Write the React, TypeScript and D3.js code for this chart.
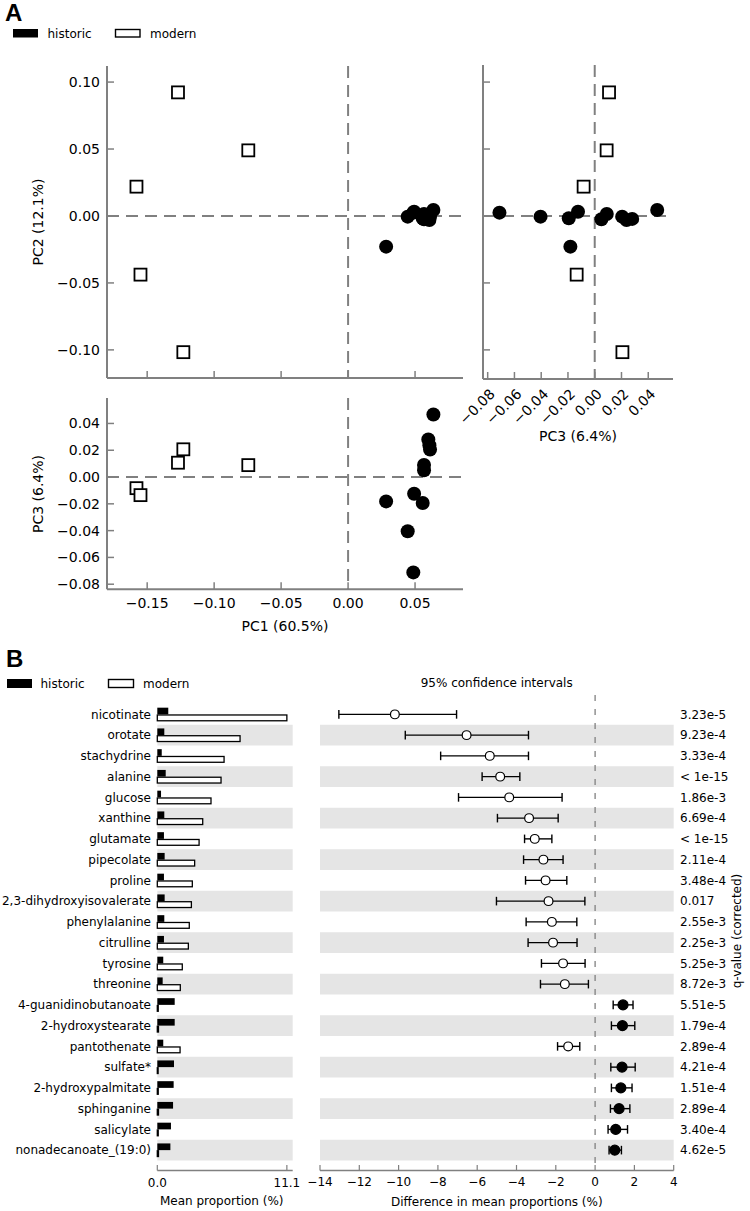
import React from "react";
import * as d3 from "d3";

// ---------- Panel A data (PCA scores) ----------
const histPC1 = [0.0487, 0.0445, 0.0557, 0.0493, 0.0284, 0.0567, 0.0567, 0.0612, 0.0607, 0.0599, 0.0637];
const histPC2 = [0.0025, -0.0005, -0.0017, 0.0032, -0.0229, -0.0025, 0.0015, -0.0005, -0.003, -0.0022, 0.0045];
const histPC3 = [-0.0712, -0.0405, -0.0194, -0.0125, -0.0182, 0.005, 0.009, 0.0205, 0.0238, 0.028, 0.0467];
const modPC1 = [-0.127, -0.0745, -0.158, -0.155, -0.123];
const modPC2 = [0.0923, 0.049, 0.0219, -0.0438, -0.1017];
const modPC3 = [0.0107, 0.0089, -0.0083, -0.0135, 0.0207];

const pc1Ticks = [-0.15, -0.1, -0.05, 0.0, 0.05];
const pc2Ticks = [0.1, 0.05, 0.0, -0.05, -0.1];
const pc3Ticks = [-0.08, -0.06, -0.04, -0.02, 0.0, 0.02, 0.04];

// ---------- Panel B data ----------
const metabolites = [
  "nicotinate", "orotate", "stachydrine", "alanine", "glucose", "xanthine", "glutamate",
  "pipecolate", "proline", "2,3-dihydroxyisovalerate", "phenylalanine", "citrulline",
  "tyrosine", "threonine", "4-guanidinobutanoate", "2-hydroxystearate", "pantothenate",
  "sulfate*", "2-hydroxypalmitate", "sphinganine", "salicylate", "nonadecanoate_(19:0)",
];
const histMean = [0.94, 0.6, 0.38, 0.72, 0.32, 0.6, 0.57, 0.63, 0.57, 0.63, 0.6, 0.57, 0.51, 0.46, 1.49, 1.49, 0.51, 1.43, 1.4, 1.35, 1.17, 1.12];
const modMean = [11.1, 7.09, 5.72, 5.46, 4.6, 3.89, 3.58, 3.2, 3.0, 2.92, 2.74, 2.66, 2.14, 1.97, 0.08, 0.1, 1.95, 0.07, 0.08, 0.1, 0.08, 0.1];
const diffMean = [-10.19, -6.54, -5.36, -4.83, -4.37, -3.36, -3.07, -2.63, -2.52, -2.37, -2.2, -2.14, -1.63, -1.54, 1.42, 1.39, -1.37, 1.37, 1.31, 1.22, 1.05, 1.0];
const ciLow = [-13.04, -9.66, -7.86, -5.75, -6.95, -4.97, -3.59, -3.64, -3.54, -5.02, -3.51, -3.41, -2.73, -2.78, 0.92, 0.83, -1.91, 0.8, 0.83, 0.78, 0.66, 0.71];
const ciHigh = [-7.05, -3.39, -3.39, -3.83, -1.68, -1.88, -2.2, -1.63, -1.44, -0.52, -0.93, -0.92, -0.51, -0.34, 1.93, 2.02, -0.78, 2.04, 1.88, 1.77, 1.65, 1.34];
const qValues = ["3.23e-5", "9.23e-4", "3.33e-4", "< 1e-15", "1.86e-3", "6.69e-4", "< 1e-15", "2.11e-4", "3.48e-4", "0.017", "2.55e-3", "2.25e-3", "5.25e-3", "8.72e-3", "5.51e-5", "1.79e-4", "2.89e-4", "4.21e-4", "1.51e-4", "2.89e-4", "3.40e-4", "4.62e-5"];
const meanTicks = [0.0, 11.1];
const diffTicks = [-14, -12, -10, -8, -6, -4, -2, 0, 2, 4];

const FONT = "DejaVu Sans";
const GRAY = "#808080";
const BAND = "#e5e5e5";

const fmt2 = (v: number) => (v < 0 ? "\u2212" : "") + Math.abs(v).toFixed(2);

export default function App() {
  // Panel A scales
  const xPC1 = d3.scaleLinear().domain([-0.18, 0.0858]).range([107, 463]);
  const yPC2 = d3.scaleLinear().domain([-0.121, 0.112]).range([378, 66]);
  const xPC3 = d3.scaleLinear().domain([-0.0835, 0.0585]).range([483, 673]);
  const yPC3 = d3.scaleLinear().domain([-0.0838, 0.059]).range([589.3, 398]);

  // Panel B scales
  const yRow = d3.scaleBand<string>().domain(metabolites).range([704, 1160.5]).padding(0);
  const xMean = d3.scaleLinear().domain([0, 11.6]).range([157.3, 292.7]);
  const xDiff = d3.scaleLinear().domain([-14, 4]).range([320, 673.7]);
  const bw = yRow.bandwidth();

  const square = (cx: number, cy: number, k: string) => (
    <rect key={k} x={cx - 6} y={cy - 6} width={12} height={12} fill="#fff" stroke="#000" strokeWidth={1.8} />
  );
  const dot = (cx: number, cy: number, k: string) => <circle key={k} cx={cx} cy={cy} r={7} fill="#000" />;

  const dash = { stroke: GRAY, strokeWidth: 2, strokeDasharray: "12,7", fill: "none" };

  return (
    <svg width={750} height={1211} style={{ position: "absolute", left: 0, top: 0, background: "#fff" }} fontFamily={FONT}>
      <rect x={0} y={0} width={750} height={1211} fill="#fff" />
      {/* ===== Panel A ===== */}
      <text x={5} y={21} fontFamily="Liberation Sans" fontWeight="bold" fontSize={24}>A</text>
      <rect x={13} y={29} width={25} height={8.5} fill="#000" />
      <text x={47.5} y={37.5} fontSize={12}>historic</text>
      <rect x={115.5} y={29.5} width={24.5} height={7.5} fill="#fff" stroke="#000" strokeWidth={1.4} />
      <text x={150} y={37.5} fontSize={12}>modern</text>

      {/* Top-left: PC1 vs PC2 */}
      <g>
        <line x1={xPC1(0)} x2={xPC1(0)} y1={66} y2={378} {...dash} />
        <line x1={107} x2={463} y1={yPC2(0)} y2={yPC2(0)} {...dash} />
        <line x1={107} x2={107} y1={66} y2={378} stroke={GRAY} strokeWidth={2} />
        <line x1={107} x2={463} y1={378} y2={378} stroke={GRAY} strokeWidth={2} />
        {pc2Ticks.map((t) => (
          <g key={"l" + t}>
            <line x1={107} x2={114} y1={yPC2(t)} y2={yPC2(t)} stroke={GRAY} strokeWidth={1.5} />
            <text x={100} y={yPC2(t) + 5} fontSize={14} textAnchor="end">{fmt2(t)}</text>
          </g>
        ))}
        {pc1Ticks.map((t) => (
          <line key={"b" + t} x1={xPC1(t)} x2={xPC1(t)} y1={378} y2={371} stroke={GRAY} strokeWidth={1.5} />
        ))}
        {modPC1.map((v, i) => square(xPC1(v), yPC2(modPC2[i]), "m12" + i))}
        {histPC1.map((v, i) => dot(xPC1(v), yPC2(histPC2[i]), "h12" + i))}
        <text transform={`translate(43,222) rotate(-90)`} fontSize={14} textAnchor="middle">PC2 (12.1%)</text>
      </g>

      {/* Top-right: PC3 vs PC2 */}
      <g>
        <line x1={xPC3(0)} x2={xPC3(0)} y1={65} y2={379} {...dash} />
        <line x1={483} x2={673} y1={yPC2(0)} y2={yPC2(0)} {...dash} />
        <line x1={483} x2={483} y1={65} y2={379} stroke={GRAY} strokeWidth={2} />
        <line x1={483} x2={673} y1={379} y2={379} stroke={GRAY} strokeWidth={2} />
        {pc2Ticks.map((t) => (
          <line key={"r" + t} x1={483} x2={490} y1={yPC2(t)} y2={yPC2(t)} stroke={GRAY} strokeWidth={1.5} />
        ))}
        {pc3Ticks.map((t) => (
          <g key={"tb" + t}>
            <line x1={xPC3(t)} x2={xPC3(t)} y1={379} y2={372} stroke={GRAY} strokeWidth={1.5} />
            <text transform={`translate(${xPC3(t) + 8},${395}) rotate(-45)`} fontSize={14} textAnchor="end">{fmt2(t)}</text>
          </g>
        ))}
        {modPC3.map((v, i) => square(xPC3(v), yPC2(modPC2[i]), "m32" + i))}
        {histPC3.map((v, i) => dot(xPC3(v), yPC2(histPC2[i]), "h32" + i))}
        <text x={578} y={441} fontSize={14} textAnchor="middle">PC3 (6.4%)</text>
      </g>

      {/* Bottom-left: PC1 vs PC3 */}
      <g>
        <line x1={xPC1(0)} x2={xPC1(0)} y1={398} y2={589.3} {...dash} />
        <line x1={107} x2={463} y1={yPC3(0)} y2={yPC3(0)} {...dash} />
        <line x1={107} x2={107} y1={398} y2={589.3} stroke={GRAY} strokeWidth={2} />
        <line x1={107} x2={463} y1={589.3} y2={589.3} stroke={GRAY} strokeWidth={2} />
        {pc3Ticks.map((t) => (
          <g key={"bl" + t}>
            <line x1={107} x2={114} y1={yPC3(t)} y2={yPC3(t)} stroke={GRAY} strokeWidth={1.5} />
            <text x={100} y={yPC3(t) + 5} fontSize={14} textAnchor="end">{fmt2(t)}</text>
          </g>
        ))}
        {pc1Ticks.map((t) => (
          <g key={"bb" + t}>
            <line x1={xPC1(t)} x2={xPC1(t)} y1={589.3} y2={582.3} stroke={GRAY} strokeWidth={1.5} />
            <text x={xPC1(t)} y={608} fontSize={14} textAnchor="middle">{fmt2(t)}</text>
          </g>
        ))}
        {modPC1.map((v, i) => square(xPC1(v), yPC3(modPC3[i]), "m13" + i))}
        {histPC1.map((v, i) => dot(xPC1(v), yPC3(histPC3[i]), "h13" + i))}
        <text transform={`translate(43,494) rotate(-90)`} fontSize={14} textAnchor="middle">PC3 (6.4%)</text>
        <text x={285} y={631} fontSize={14} textAnchor="middle">PC1 (60.5%)</text>
      </g>

      {/* ===== Panel B ===== */}
      <text x={6} y={667} fontFamily="Liberation Sans" fontWeight="bold" fontSize={24}>B</text>
      <rect x={7} y={679} width={25} height={9} fill="#000" />
      <text x={40.5} y={687.5} fontSize={12}>historic</text>
      <rect x={108.5} y={679.5} width={25} height={8} fill="#fff" stroke="#000" strokeWidth={1.4} />
      <text x={143} y={687.5} fontSize={12}>modern</text>

      {/* bands */}
      {metabolites.map((m, i) =>
        i % 2 === 1 ? (
          <g key={"band" + m}>
            <rect x={157.3} y={yRow(m)!} width={292.7 - 157.3} height={bw} fill={BAND} />
            <rect x={320} y={yRow(m)!} width={673.7 - 320} height={bw} fill={BAND} />
          </g>
        ) : null
      )}

      {/* mean proportion bars */}
      {metabolites.map((m, i) => {
        const c = yRow(m)! + bw / 2;
        return (
          <g key={"bar" + m}>
            <text x={151} y={c + 4.3} fontSize={12} textAnchor="end">{m}</text>
            <rect x={xMean(0)} y={c - 6.7} width={xMean(histMean[i]) - xMean(0)} height={6.7} fill="#000" />
            <rect x={xMean(0)} y={c + 0.6} width={xMean(modMean[i]) - xMean(0)} height={5.8} fill="#fff" stroke="#000" strokeWidth={1.3} />
          </g>
        );
      })}
      <line x1={157.3} x2={292.7} y1={1170.5} y2={1170.5} stroke={GRAY} strokeWidth={1.3} />
      {meanTicks.map((t) => (
        <g key={"mt" + t}>
          <line x1={xMean(t)} x2={xMean(t)} y1={1170.5} y2={1165} stroke={GRAY} strokeWidth={1.2} />
          <text x={xMean(t)} y={1187} fontSize={12} textAnchor="middle">{t.toFixed(1)}</text>
        </g>
      ))}
      <text x={221.7} y={1205} fontSize={12} textAnchor="middle">Mean proportion (%)</text>

      {/* CI plot */}
      <text x={496.7} y={687} fontSize={12} textAnchor="middle">95% confidence intervals</text>
      <line x1={xDiff(0)} x2={xDiff(0)} y1={695} y2={1170} stroke={GRAY} strokeWidth={1.3} strokeDasharray="6,8" />
      {metabolites.map((m, i) => {
        const c = yRow(m)! + bw / 2;
        const pos = diffMean[i] > 0;
        return (
          <g key={"ci" + m}>
            <line x1={xDiff(ciLow[i])} x2={xDiff(ciHigh[i])} y1={c} y2={c} stroke="#000" strokeWidth={1.4} />
            <line x1={xDiff(ciLow[i])} x2={xDiff(ciLow[i])} y1={c - 4.3} y2={c + 4.3} stroke="#000" strokeWidth={1.4} />
            <line x1={xDiff(ciHigh[i])} x2={xDiff(ciHigh[i])} y1={c - 4.3} y2={c + 4.3} stroke="#000" strokeWidth={1.4} />
            <circle cx={xDiff(diffMean[i])} cy={c} r={pos ? 5 : 4.4} fill={pos ? "#000" : "#fff"} stroke="#000" strokeWidth={1.2} />
            <text x={680} y={c + 4.3} fontSize={12}>{qValues[i]}</text>
          </g>
        );
      })}
      <line x1={320} x2={673.7} y1={1170.5} y2={1170.5} stroke={GRAY} strokeWidth={1.3} />
      {diffTicks.map((t) => (
        <g key={"dt" + t}>
          <line x1={xDiff(t)} x2={xDiff(t)} y1={1170.5} y2={1165} stroke={GRAY} strokeWidth={1.2} />
          <text x={xDiff(t)} y={1186} fontSize={12} textAnchor="middle">{t < 0 ? "\u2212" + Math.abs(t) : String(t)}</text>
        </g>
      ))}
      <text x={496.8} y={1206} fontSize={12} textAnchor="middle">Difference in mean proportions (%)</text>
      <text transform={`translate(741,931) rotate(-90)`} fontSize={12} textAnchor="middle">q-value (corrected)</text>
    </svg>
  );
}
